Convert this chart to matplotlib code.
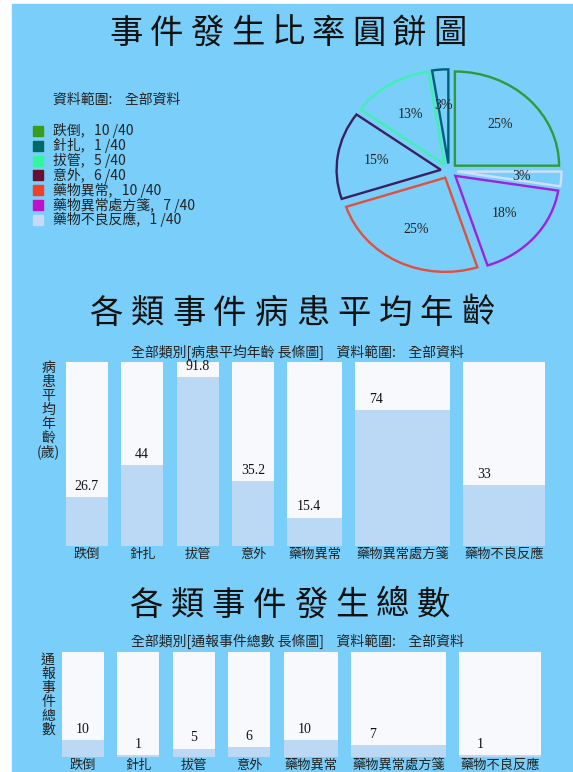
import math
import matplotlib
matplotlib.use('Agg')
import matplotlib.pyplot as plt
from matplotlib.patches import Rectangle

# data
categories = ['跌倒', '針扎', '拔管', '意外', '藥物異常', '藥物異常處方箋', '藥物不良反應']
counts = [10, 1, 5, 6, 10, 7, 1]
avg_age = [26.7, 44, 91.8, 35.2, 15.4, 74, 33]
age_labels = ['26.7', '44', '91.8', '35.2', '15.4', '74', '33']
pie_order = [0, 6, 5, 4, 3, 2, 1]

legend_colors = ['#3a9c1c', '#006a6a', '#33f5a0', '#661035', '#f04028', '#c010c8', '#c8d8f8']
edge_colors = ['#2e9a3a', '#00607a', '#40f0b0', '#3a2060', '#e05040', '#a020e0', '#d0e0f8']

BG = '#79cffa'
COL = '#f8f9fc'
FILL = '#bbd8f4'
CJK = ['Noto Sans CJK TC', 'DejaVu Sans']
SERIF = ['Liberation Serif', 'DejaVu Serif']

W, H = 573, 772
fig = plt.figure(figsize=(W / 100, H / 100), dpi=100)
fig.patch.set_facecolor('white')


def px_axes(l, t, w, h):
    return fig.add_axes([l / W, 1 - (t + h) / H, w / W, h / H])


# pixel overlay for background and texts
ax0 = px_axes(0, 0, W, H)
ax0.set_xlim(0, W)
ax0.set_ylim(H, 0)
ax0.axis('off')
ax0.add_patch(Rectangle((12, 4), W - 12, H - 4, color=BG, zorder=0))


def title(text, cx, cy, adv):
    n = len(text)
    for i, ch in enumerate(text):
        x = cx + (i - (n - 1) / 2) * adv
        ax0.text(x, cy, ch, family=CJK, fontsize=24, ha='center', va='center', color='#111111')


title('事件發生比率圓餅圖', 288, 33, 40.5)
title('各類事件病患平均年齡', 292, 313, 41.3)
title('各類事件發生總數', 290, 605, 41.1)

# legend
total = sum(counts)
ax0.text(53, 100, '資料範圍:    全部資料', family=CJK, fontsize=10, va='center', color='#222222')
for i, (name, c) in enumerate(zip(categories, counts)):
    y = 131 + i * 14.8
    ax0.add_patch(Rectangle((33, y - 5), 10, 10, color=legend_colors[i]))
    ax0.text(53, y, f'{name},   {c} /{total}', family=CJK, fontsize=10, va='center', color='#222222')

# pie
axp = px_axes(449 - 125, 171 - 113, 250, 226)
vals = [counts[i] for i in pie_order]
wedges, texts, autotexts = axp.pie(
    vals, startangle=90, counterclock=False, explode=[0.08] * len(vals),
    autopct=lambda p: '%d%%' % math.floor(p + 0.5), pctdistance=0.62,
    wedgeprops=dict(facecolor='none', linewidth=1.7),
    textprops=dict(family=SERIF, fontsize=10, color='#222222'))
for w, i in zip(wedges, pie_order):
    w.set_edgecolor(edge_colors[i])
axp.set_aspect('auto')
axp.set_xlim(-1.2, 1.2)
axp.set_ylim(-1.2, 1.2)

# bar column widths from label length
widths = [max(3.1, len(c)) * 13.55 for c in categories]
gap = 13.4
lefts = []
x = 0
for w in widths:
    lefts.append(x)
    x += w + gap
span = x - gap


def bar_chart(left, top, height, values, labels, ymax, subtitle, sub_y, ylab, ylab_y):
    ax = px_axes(left, top, span, height)
    ax.set_facecolor('none')
    ax.bar(lefts, [ymax] * len(values), width=widths, align='edge', color=COL)
    ax.bar(lefts, values, width=widths, align='edge', color=FILL)
    ax.set_xlim(0, span)
    ax.set_ylim(0, ymax)
    ax.axis('off')
    for l, w, v, s, c in zip(lefts, widths, values, labels, categories):
        ax.annotate(s, (l + 21, v), xytext=(0, 3), textcoords='offset points',
                    ha='center', va='bottom', family=SERIF, fontsize=10, color='#111111')
        ax.annotate(c, (l + w / 2, 0), xytext=(0, -1.5), textcoords='offset points',
                    ha='center', va='top', family=CJK, fontsize=9.5, color='#222222',
                    annotation_clip=False)
    ax0.text(297, sub_y, subtitle, family=CJK, fontsize=10, ha='center', va='center', color='#222222')
    for i, ch in enumerate(ylab):
        ax0.text(48, ylab_y + i * 14, ch, family=CJK, fontsize=10, ha='center', va='center',
                 color='#222222')


bar_chart(65.8, 362, 184, avg_age, age_labels, 100,
          '全部類別[病患平均年齡 長條圖]    資料範圍:    全部資料', 352,
          ['病', '患', '平', '均', '年', '齡', '(歲)'], 368)
bar_chart(62, 652, 105, counts, [str(c) for c in counts], 62,
          '全部類別[通報事件總數 長條圖]    資料範圍:    全部資料', 641,
          ['通', '報', '事', '件', '總', '數'], 660)

fig.savefig('out.png', dpi=100)
